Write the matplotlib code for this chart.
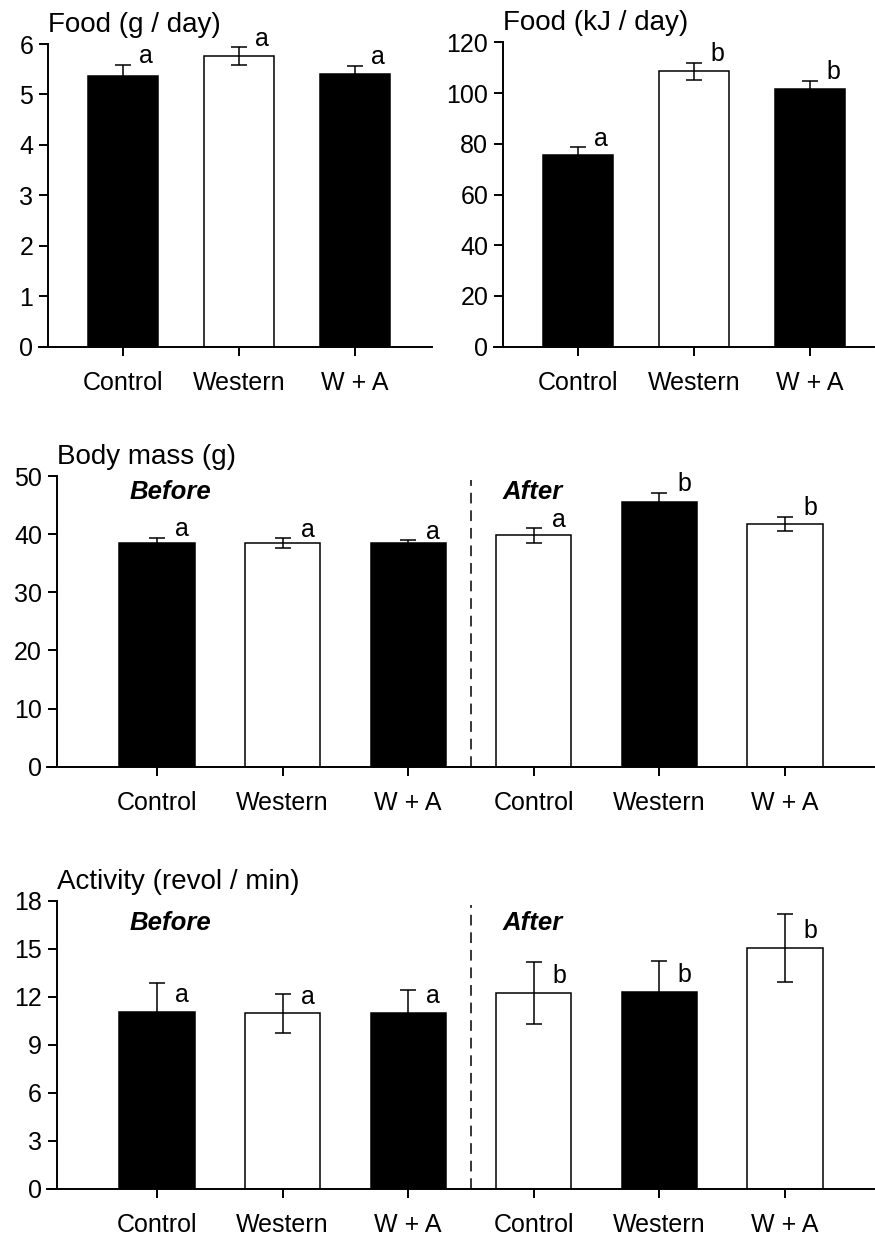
import matplotlib
matplotlib.use("Agg")
import matplotlib.pyplot as plt

plt.rcParams["font.family"] = ["Liberation Sans", "DejaVu Sans"]

# groups
groups3 = ["Control", "Western", "W + A"]
groups6 = groups3 + groups3

# food intake, g/day
food_g = [5.37, 5.76, 5.41]
food_g_err = [0.22, 0.18, 0.16]
food_g_sig = ["a", "a", "a"]

# food intake, kJ/day
food_kj = [75.6, 108.5, 101.7]
food_kj_err = [3.1, 3.4, 3.2]
food_kj_sig = ["a", "b", "b"]

# body mass before / after, g
mass = [38.4, 38.5, 38.5, 39.8, 45.5, 41.8]
mass_err = [1.0, 0.8, 0.5, 1.25, 1.6, 1.2]
mass_sig = ["a", "a", "a", "a", "b", "b"]

# wheel activity before / after, revol/min
activity = [11.06, 10.98, 11.0, 12.25, 12.33, 15.06]
activity_err = [1.8, 1.2, 1.44, 1.94, 1.94, 2.15]
activity_sig = ["a", "a", "a", "b", "b", "b"]

FILL3 = ["black", "white", "black"]
FILL6 = ["black", "white", "black", "white", "black", "white"]

W, H = 875, 1239
fig = plt.figure(figsize=(W / 100, H / 100), dpi=100)


def px_axes(x0, x1, ybot, ytop):
    # axes box from pixel coordinates (origin top-left)
    return fig.add_axes([x0 / W, (H - ybot) / H, (x1 - x0) / W, (ybot - ytop) / H])


def panel(ax, labels, vals, errs, sig, fills, ymax, yticks, title,
          xlim, spine_x, letter_on_bar=False, split_y=None):
    x = list(range(len(vals)))
    ax.bar(x, vals, width=0.6, color=fills, edgecolor="black", linewidth=1.1, zorder=2)
    ax.errorbar(x, vals, yerr=errs, fmt="none", ecolor="black", elinewidth=1.1,
                capsize=5.5, capthick=1.1, zorder=3)
    for xi, v, e, s in zip(x, vals, errs, sig):
        if letter_on_bar:
            y, off = v, 7
        else:
            y, off = v + e, 1
        ax.annotate(s, (xi + 0.2, y), xytext=(0, off), textcoords="offset points",
                    ha="center", va="baseline", fontsize=18)
    ax.set_xlim(*xlim)
    ax.set_ylim(0, ymax)
    ax.set_yticks(yticks)
    ax.set_xticks(x)
    ax.set_xticklabels(labels)
    for side in ("top", "right"):
        ax.spines[side].set_visible(False)
    ax.spines["left"].set_position(("data", spine_x))
    ax.spines["left"].set_linewidth(1.4)
    ax.spines["bottom"].set_linewidth(1.4)
    ax.tick_params(axis="both", direction="out", length=6.5, width=1.4, labelsize=18)
    ax.tick_params(axis="x", pad=11)
    ax.tick_params(axis="y", pad=4)
    ax.patch.set_visible(False)
    ax.annotate(title, (spine_x, ymax), xytext=(0, 8.5), textcoords="offset points",
                ha="left", va="baseline", fontsize=20, annotation_clip=False)
    if split_y is not None:
        ax.axvline(2.5, ymin=0, ymax=0.985, color="black", lw=1.1,
                   dashes=(7, 4.5), zorder=1)
        ax.text(-0.215, split_y, "Before", ha="left", va="center", fontsize=18.5,
                fontweight="bold", fontstyle="italic")
        ax.text(2.75, split_y, "After", ha="left", va="center", fontsize=18.5,
                fontweight="bold", fontstyle="italic")


# top row
ax1 = px_axes(39, 432, 346.7, 44)
panel(ax1, groups3, food_g, food_g_err, food_g_sig, FILL3, 6, range(0, 7),
      "Food (g / day)", (-0.724, 2.664), -0.647)

ax2 = px_axes(494, 874, 346.7, 42.3)
panel(ax2, groups3, food_kj, food_kj_err, food_kj_sig, FILL3, 120, range(0, 121, 20),
      "Food (kJ / day)", (-0.724, 2.552), -0.647)

# body mass
ax3 = px_axes(47, 874, 766.7, 476)
panel(ax3, groups6, mass, mass_err, mass_sig, FILL6, 50, range(0, 51, 10),
      "Body mass (g)", (-0.876, 5.709), -0.80, split_y=47.3)

# activity
ax4 = px_axes(47, 874, 1189, 901)
panel(ax4, groups6, activity, activity_err, activity_sig, FILL6, 18, range(0, 19, 3),
      "Activity (revol / min)", (-0.876, 5.709), -0.80, letter_on_bar=True,
      split_y=16.6)

fig.savefig("out.png", dpi=100, facecolor="white")
